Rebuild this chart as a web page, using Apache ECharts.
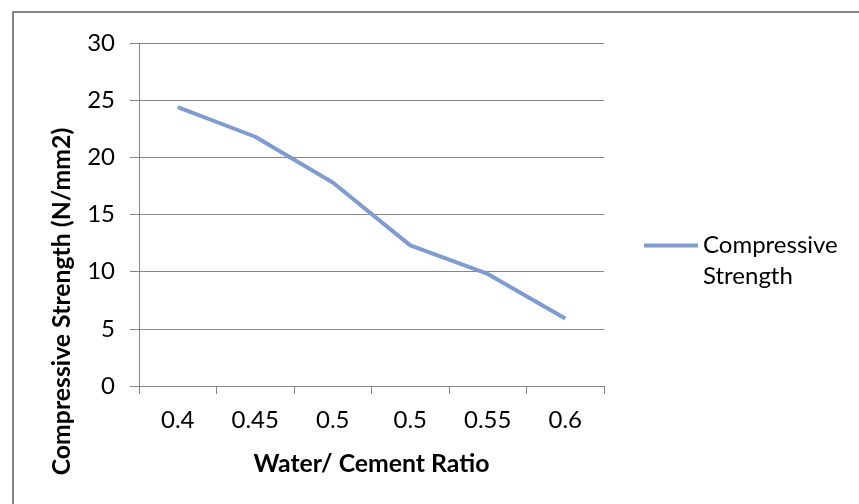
<!DOCTYPE html>
<html>
<head>
<meta charset="utf-8">
<script src="https://cdn.jsdelivr.net/npm/echarts@6/dist/echarts.min.js"></script>
<style>
html,body{margin:0;padding:0;background:#fff;}
#c{width:859px;height:504px;}
</style>
</head>
<body>
<div id="c"></div>
<script>
const categories = ['0.4', '0.45', '0.5', '0.5', '0.55', '0.6'];
const strength = [24.4, 21.8, 17.8, 12.3, 9.8, 5.9];
const seriesName = 'Compressive Strength';
const yTicks = { min: 0, max: 30, interval: 5 };

const FONT = 'Lato';
const chart = echarts.init(document.getElementById('c'), null, { renderer: 'canvas' });
chart.setOption({
  animation: false,
  backgroundColor: '#fff',
  graphic: [{
    type: 'rect',
    shape: { x: 13, y: 12, width: 900, height: 600 },
    style: { fill: 'none', stroke: '#868686', lineWidth: 2 },
    silent: true
  }],
  grid: { left: 139, right: 255, top: 43, bottom: 118, containLabel: false },
  legend: {
    left: 644,
    top: 199,
    padding: 0,
    icon: 'rect',
    itemWidth: 54,
    itemHeight: 4,
    itemGap: 0,
    data: [{ name: seriesName }],
    formatter: function () { return ' \nCompressive\nStrength'; },
    textStyle: { fontFamily: FONT, fontSize: 24, color: '#000', lineHeight: 31 }
  },
  xAxis: {
    type: 'category',
    data: categories,
    boundaryGap: true,
    name: 'Water/ Cement Ratio',
    nameLocation: 'middle',
    nameGap: 66,
    nameTextStyle: { fontFamily: FONT, fontSize: 24.8, fontWeight: 'bold', color: '#000' },
    axisLine: { lineStyle: { color: '#868686', width: 1 } },
    axisTick: { show: true, length: 8, alignWithLabel: false, lineStyle: { color: '#868686' } },
    axisLabel: { fontFamily: FONT, fontSize: 24, color: '#000', margin: 22 },
    splitLine: { show: false }
  },
  yAxis: {
    type: 'value',
    min: yTicks.min,
    max: yTicks.max,
    interval: yTicks.interval,
    name: 'Compressive Strength (N/mm2)',
    nameLocation: 'middle',
    nameGap: 64,
    nameRotate: 90,
    nameTextStyle: { fontFamily: FONT, fontSize: 24.8, fontWeight: 'bold', color: '#000', padding: [0, 174, 0, 0] },
    axisLine: { show: true, lineStyle: { color: '#868686', width: 1 } },
    axisTick: { show: true, length: 9, lineStyle: { color: '#868686' } },
    axisLabel: { fontFamily: FONT, fontSize: 24, color: '#000', margin: 24 },
    splitLine: { show: true, lineStyle: { color: '#868686', width: 1 } }
  },
  series: [{
    name: seriesName,
    type: 'line',
    data: strength,
    symbol: 'none',
    lineStyle: { color: '#809CCF', width: 4 },
    itemStyle: { color: '#809CCF' }
  }]
});
</script>
</body>
</html>
